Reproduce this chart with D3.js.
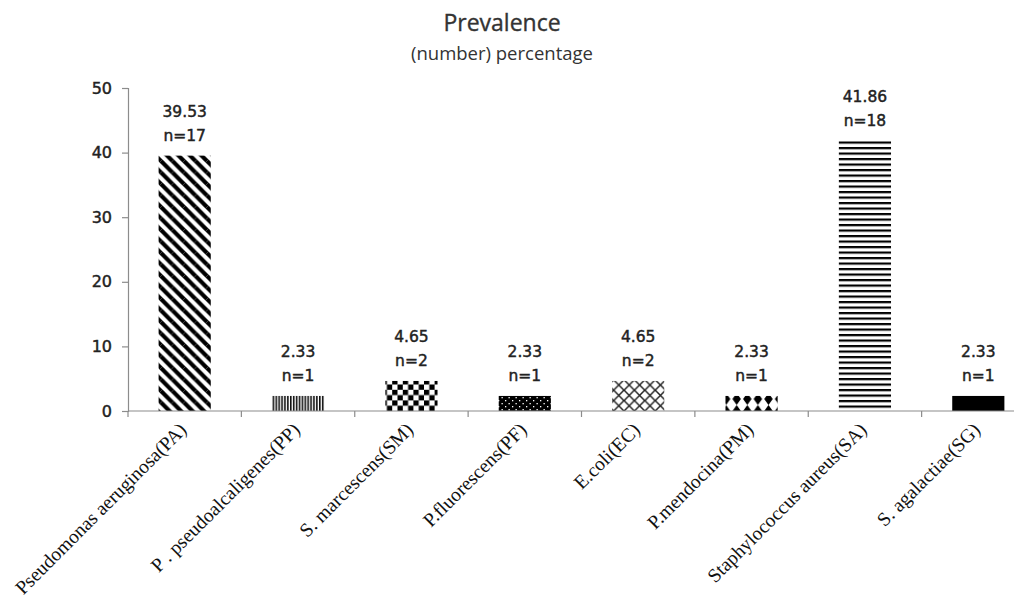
<!DOCTYPE html>
<html>
<head>
<meta charset="utf-8">
<script src="https://cdn.jsdelivr.net/npm/d3@7"></script>
<style>
  html, body { margin: 0; padding: 0; background: #fff; }
  svg { display: block; }
</style>
</head>
<body>
<svg id="chart" width="1014" height="607"></svg>
<script>
const categories = ["Pseudomonas aeruginosa(PA)", "P . pseudoalcaligenes(PP)", "S. marcescens(SM)", "P.fluorescens(PF)", "E.coli(EC)", "P.mendocina(PM)", "Staphylococcus aureus(SA)", "S. agalactiae(SG)"];
const percentages = [39.53, 2.33, 4.65, 2.33, 4.65, 2.33, 41.86, 2.33];
const counts = [17, 1, 2, 1, 2, 1, 18, 1];
const patternIds = ["pDiag", "pVert", "pCheck", "pDots", "pTrellis", "pDiamond", "pHoriz", "pSolid"];
const yTicks = [0, 10, 20, 30, 40, 50];
const titleText = "Prevalence";
const subtitleText = "(number) percentage";

const svg = d3.select("#chart");
const x = d3.scaleBand().domain(categories).range([128, 1035]).padding(0);
const y = d3.scaleLinear().domain([0, 50]).range([411, 88]);
const barW = x.bandwidth() * 0.46;

// patterns
const defs = svg.append("defs");
{
  const s = 11.5;
  const p = defs.append("pattern").attr("id", "pDiag").attr("patternUnits", "userSpaceOnUse")
    .attr("width", s).attr("height", s);
  p.append("rect").attr("width", s).attr("height", s).attr("fill", "#fff");
  [[-s, 0], [0, 0], [s, 0], [0, -s], [0, s]].forEach(([dx, dy]) => {
    p.append("line").attr("x1", dx).attr("y1", dy).attr("x2", dx + s).attr("y2", dy + s)
      .attr("stroke", "#000").attr("stroke-width", 4.2);
  });
}
{
  const s = 2.9;
  const p = defs.append("pattern").attr("id", "pVert").attr("patternUnits", "userSpaceOnUse")
    .attr("width", s).attr("height", 10);
  p.append("rect").attr("width", s).attr("height", 10).attr("fill", "#fff");
  p.append("rect").attr("width", 1.6).attr("height", 10).attr("fill", "#111");
}
{
  const c = 5.3;
  const p = defs.append("pattern").attr("id", "pCheck").attr("patternUnits", "userSpaceOnUse")
    .attr("width", 2 * c).attr("height", 2 * c).attr("y", 411);
  p.append("rect").attr("width", 2 * c).attr("height", 2 * c).attr("fill", "#fff");
  p.append("rect").attr("width", c).attr("height", c).attr("fill", "#000");
  p.append("rect").attr("x", c).attr("y", c).attr("width", c).attr("height", c).attr("fill", "#000");
}
{
  const w = 7, h = 6;
  const p = defs.append("pattern").attr("id", "pDots").attr("patternUnits", "userSpaceOnUse")
    .attr("width", w).attr("height", h).attr("y", 411);
  p.append("rect").attr("width", w).attr("height", h).attr("fill", "#000");
  p.append("rect").attr("x", 1).attr("y", 1).attr("width", 1.3).attr("height", 1.3).attr("fill", "#fff");
  p.append("rect").attr("x", 4.5).attr("y", 4).attr("width", 1.3).attr("height", 1.3).attr("fill", "#fff");
}
{
  const s = 10.4;
  const p = defs.append("pattern").attr("id", "pTrellis").attr("patternUnits", "userSpaceOnUse")
    .attr("width", s).attr("height", s).attr("y", 411);
  p.append("rect").attr("width", s).attr("height", s).attr("fill", "#fff");
  p.append("path").attr("d", `M0,0L${s},${s}M${s},0L0,${s}`).attr("stroke", "#222").attr("stroke-width", 1.5).attr("fill", "none");
  p.append("path").attr("d", `M-1,1L1,-1M${s - 1},${s + 1}L${s + 1},${s - 1}M-1,${s - 1}L1,${s + 1}M${s - 1},-1L${s + 1},1`).attr("stroke", "#222").attr("stroke-width", 1.5);
}
{
  const w = 10.6, h = 12;
  const p = defs.append("pattern").attr("id", "pDiamond").attr("patternUnits", "userSpaceOnUse")
    .attr("width", w).attr("height", h).attr("x", 0).attr("y", 411 - h);
  p.append("rect").attr("width", w).attr("height", h).attr("fill", "#fff");
  p.append("path").attr("d", `M${w * 0.1},0L${w * 0.9},0L${w * 0.5},${h / 2}Z M${w * 0.1},${h}L${w * 0.9},${h}L${w * 0.5},${h / 2}Z`).attr("fill", "#000");
}
{
  const s = 5.5;
  const p = defs.append("pattern").attr("id", "pHoriz").attr("patternUnits", "userSpaceOnUse")
    .attr("width", 10).attr("height", s).attr("y", 411);
  p.append("rect").attr("width", 10).attr("height", s).attr("fill", "#fff");
  p.append("rect").attr("y", 0).attr("width", 10).attr("height", 2.2).attr("fill", "#000");
}
{
  const p = defs.append("pattern").attr("id", "pSolid").attr("patternUnits", "userSpaceOnUse")
    .attr("width", 10).attr("height", 10);
  p.append("rect").attr("width", 10).attr("height", 10).attr("fill", "#000");
}

// Title
svg.append("text").attr("x", 502).attr("y", 31).attr("text-anchor", "middle")
  .attr("font-family", "Open Sans, sans-serif").attr("font-size", 23).attr("fill", "#333")
  .attr("stroke", "#333").attr("stroke-width", 0.35)
  .text(titleText);
svg.append("text").attr("x", 502).attr("y", 60).attr("text-anchor", "middle")
  .attr("font-family", "Open Sans, sans-serif").attr("font-size", 18.5).attr("fill", "#333")
  .text(subtitleText);

// Bars
const data = categories.map((c, i) => ({ c, v: percentages[i], n: counts[i], pat: patternIds[i] }));
svg.append("g").selectAll("rect").data(data).join("rect")
  .attr("x", d => x(d.c) + (x.bandwidth() - barW) / 2)
  .attr("y", d => y(d.v))
  .attr("width", barW)
  .attr("height", d => y(0) - y(d.v))
  .attr("fill", d => `url(#${d.pat})`);

// Value labels
const lab = svg.append("g").attr("font-family", "DejaVu Sans, sans-serif").attr("font-size", 15.5)
  .attr("fill", "#222").attr("stroke", "#222").attr("stroke-width", 0.45).attr("text-anchor", "middle");
lab.selectAll("text.v").data(data).join("text").attr("class", "v")
  .attr("x", d => x(d.c) + x.bandwidth() / 2).attr("y", d => y(d.v) - 38.5).text(d => d.v.toFixed(2));
lab.selectAll("text.n").data(data).join("text").attr("class", "n")
  .attr("x", d => x(d.c) + x.bandwidth() / 2).attr("y", d => y(d.v) - 14.5).text(d => "n=" + d.n);

// Y axis
const yAxis = svg.append("g").attr("transform", "translate(128,0)")
  .call(d3.axisLeft(y).tickValues(yTicks).tickSize(6).tickPadding(10).tickFormat(d3.format("d")));
yAxis.select(".domain").attr("stroke", "#8c8c8c").attr("stroke-width", 1.2);
yAxis.selectAll(".tick line").attr("stroke", "#8c8c8c").attr("stroke-width", 1.2);
yAxis.selectAll(".tick text").attr("font-family", "DejaVu Sans, sans-serif").attr("font-size", 16)
  .attr("fill", "#222").attr("stroke", "#222").attr("stroke-width", 0.45);

// X axis
const bounds = categories.map(c => x(c)).concat([x.range()[1]]);
const xg = svg.append("g");
xg.append("line").attr("x1", 128).attr("x2", 1035).attr("y1", y(0)).attr("y2", y(0))
  .attr("stroke", "#8c8c8c").attr("stroke-width", 1.2);
xg.selectAll("line.t").data(bounds).join("line").attr("class", "t")
  .attr("x1", d => d).attr("x2", d => d).attr("y1", y(0)).attr("y2", y(0) + 6)
  .attr("stroke", "#8c8c8c").attr("stroke-width", 1.2);
xg.selectAll("text").data(categories).join("text")
  .attr("transform", c => `translate(${x(c) + x.bandwidth() / 2 + 3},${y(0) + 20}) rotate(-45)`)
  .attr("text-anchor", "end")
  .attr("font-family", "Liberation Serif, serif").attr("font-size", 19.5).attr("fill", "#111")
  .text(c => c);
</script>
</body>
</html>
